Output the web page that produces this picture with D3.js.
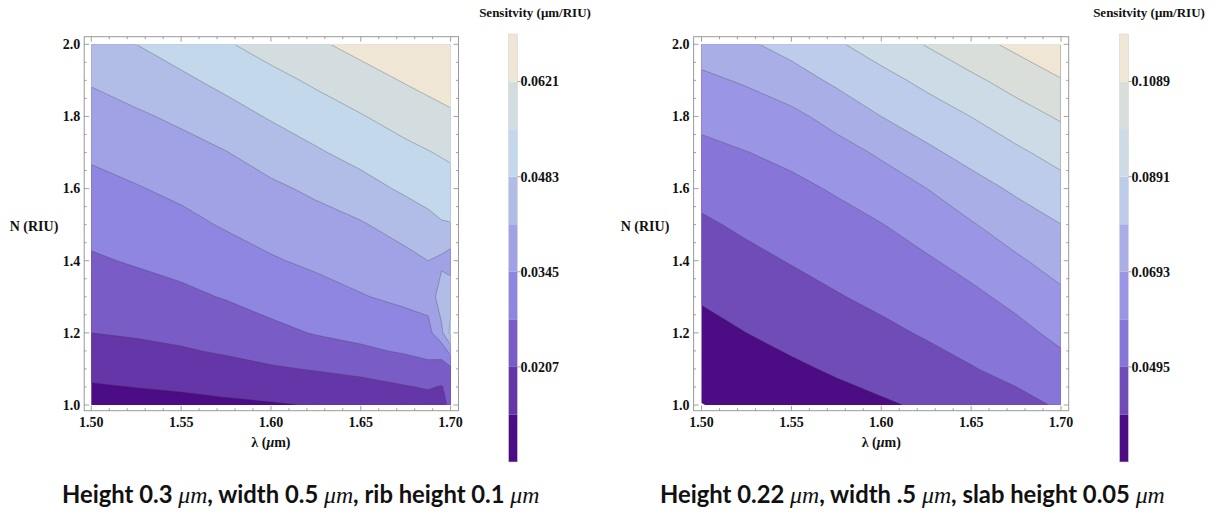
<!DOCTYPE html>
<html>
<head>
<meta charset="utf-8">
<script src="https://cdn.jsdelivr.net/npm/d3@7"></script>
<style>
  body { margin: 0; background: #fff; }
  text { font-family: "Liberation Serif", "DejaVu Serif", serif; font-weight: bold; fill: #111; }
  text.cap { font-family: Lato, "Open Sans", sans-serif; }
</style>
</head>
<body>
<svg id="chart" width="1217" height="515"></svg>
<script>
// left panel: rib waveguide, sensitivity (um/RIU) on a lambda x N grid
const lambdaLeft = [1.50, 1.525, 1.55, 1.575, 1.60, 1.625, 1.65, 1.675, 1.6875, 1.695, 1.70];
const nLeft = [1.0, 1.05, 1.1, 1.15, 1.2, 1.3, 1.4, 1.5, 1.6, 1.7, 1.8, 1.9, 2.0];
const sensLeft = [
  [0.0105, 0.0112, 0.0118, 0.0125, 0.0132, 0.0142, 0.0152, 0.0162, 0.0180, 0.0190, 0.0220],
  [0.0132, 0.0139, 0.0146, 0.0156, 0.0166, 0.0176, 0.0186, 0.0203, 0.0212, 0.0203, 0.0230],
  [0.0157, 0.0165, 0.0174, 0.0186, 0.0200, 0.0211, 0.0224, 0.0245, 0.0258, 0.0250, 0.0260],
  [0.0182, 0.0191, 0.0201, 0.0214, 0.0230, 0.0247, 0.0265, 0.0283, 0.0293, 0.0300, 0.0370],
  [0.0207, 0.0214, 0.0223, 0.0236, 0.0259, 0.0280, 0.0294, 0.0311, 0.0322, 0.0400, 0.0500],
  [0.0237, 0.0248, 0.0262, 0.0280, 0.0302, 0.0320, 0.0341, 0.0360, 0.0371, 0.0450, 0.0460],
  [0.0268, 0.0282, 0.0296, 0.0316, 0.0339, 0.0357, 0.0375, 0.0396, 0.0414, 0.0400, 0.0380],
  [0.0297, 0.0311, 0.0328, 0.0351, 0.0371, 0.0389, 0.0408, 0.0442, 0.0464, 0.0478, 0.0480],
  [0.0325, 0.0341, 0.0359, 0.0381, 0.0402, 0.0426, 0.0458, 0.0494, 0.0508, 0.0517, 0.0521],
  [0.0355, 0.0372, 0.0391, 0.0412, 0.0443, 0.0475, 0.0506, 0.0535, 0.0549, 0.0558, 0.0565],
  [0.0387, 0.0405, 0.0426, 0.0456, 0.0489, 0.0519, 0.0548, 0.0580, 0.0595, 0.0604, 0.0610],
  [0.0420, 0.0443, 0.0470, 0.0502, 0.0532, 0.0563, 0.0595, 0.0626, 0.0641, 0.0650, 0.0656],
  [0.0457, 0.0483, 0.0515, 0.0546, 0.0579, 0.0611, 0.0642, 0.0672, 0.0687, 0.0690, 0.0690]
];
const levelsLeft = [0.0069, 0.0138, 0.0207, 0.0276, 0.0345, 0.0414, 0.0483, 0.0552, 0.0621, 0.0690];
const barTicksLeft = [0.0207, 0.0345, 0.0483, 0.0621];
const colorsLeft = ["#4b0c85", "#6436a7", "#7a5cc7", "#8f86e2", "#a1a1e5", "#b1bce7", "#c3d8ea", "#d3dde0", "#efe6d5"];

// right panel: slab waveguide
const lambdaRight = [1.50, 1.525, 1.55, 1.575, 1.60, 1.625, 1.65, 1.675, 1.70];
const nRight = [1.0, 1.1, 1.2, 1.3, 1.4, 1.5, 1.6, 1.7, 1.8, 1.9, 2.0];
const sensRight = [
  [0.0295, 0.0320, 0.0343, 0.0365, 0.0385, 0.0408, 0.0434, 0.0468, 0.0505],
  [0.0329, 0.0358, 0.0382, 0.0406, 0.0430, 0.0458, 0.0490, 0.0521, 0.0562],
  [0.0367, 0.0396, 0.0422, 0.0448, 0.0475, 0.0504, 0.0532, 0.0567, 0.0618],
  [0.0405, 0.0434, 0.0461, 0.0489, 0.0516, 0.0544, 0.0574, 0.0619, 0.0674],
  [0.0443, 0.0472, 0.0500, 0.0527, 0.0554, 0.0583, 0.0625, 0.0679, 0.0732],
  [0.0481, 0.0511, 0.0537, 0.0563, 0.0591, 0.0635, 0.0685, 0.0743, 0.0791],
  [0.0524, 0.0551, 0.0573, 0.0603, 0.0646, 0.0692, 0.0755, 0.0807, 0.0856],
  [0.0569, 0.0592, 0.0617, 0.0658, 0.0706, 0.0772, 0.0825, 0.0874, 0.0926],
  [0.0619, 0.0645, 0.0671, 0.0725, 0.0792, 0.0843, 0.0892, 0.0948, 0.1002],
  [0.0675, 0.0703, 0.0748, 0.0810, 0.0860, 0.0914, 0.0970, 0.1028, 0.1084],
  [0.0735, 0.0777, 0.0829, 0.0879, 0.0937, 0.0995, 0.1055, 0.1111, 0.1167]
];
const levelsRight = [0.0297, 0.0396, 0.0495, 0.0594, 0.0693, 0.0792, 0.0891, 0.0990, 0.1089, 0.1188];
const barTicksRight = [0.0495, 0.0693, 0.0891, 0.1089];
const colorsRight = ["#4b0c84", "#6f4cb7", "#8775d8", "#9a95e5", "#aaaee6", "#bcccea", "#ccdbe6", "#dadedb", "#efe6d5"];

const xTicks = [1.50, 1.55, 1.60, 1.65, 1.70];
const yTicks = [1.0, 1.2, 1.4, 1.6, 1.8, 2.0];
const captionLeft = ["Height 0.3 ", "μm", ", width 0.5 ", "μm", ", rib height 0.1 ", "μm"];
const captionRight = ["Height 0.22 ", "μm", ", width .5 ", "μm", ", slab height 0.05 ", "μm"];

const svg = d3.select("#chart");

function drawPanel(p) {
  const x = d3.scaleLinear().domain([1.5, 1.7]).range([p.x0, p.x1]);
  const y = d3.scaleLinear().domain([1.0, 2.0]).range([p.yb, p.yt]);
  const g = svg.append("g");

  // grid index -> data value (grid may be uneven)
  const li = d3.scaleLinear().domain(d3.range(p.lams.length)).range(p.lams).clamp(true);
  const ni = d3.scaleLinear().domain(d3.range(p.ns.length)).range(p.ns).clamp(true);
  const path = d3.geoPath(d3.geoTransform({
    point(px, py) { this.stream.point(x(li(px - 0.5)), y(ni(py - 0.5))); }
  }));

  const bands = d3.contours()
    .size([p.lams.length, p.ns.length])
    .thresholds(p.levels.slice(0, -1))(p.values.flat());

  g.append("g").selectAll("path")
    .data(bands)
    .join("path")
    .attr("d", path)
    .attr("fill", (d, i) => p.colors[i]);

  g.append("clipPath").attr("id", p.id + "-clip")
    .append("rect")
    .attr("x", p.x0 + 0.8).attr("y", p.yt + 0.8)
    .attr("width", p.x1 - p.x0 - 1.6).attr("height", p.yb - p.yt - 1.6);

  g.append("g").attr("clip-path", `url(#${p.id}-clip)`)
    .selectAll("path")
    .data(bands.slice(1))
    .join("path")
    .attr("d", path)
    .attr("fill", "none")
    .attr("stroke", "#3a3a3a")
    .attr("stroke-opacity", 0.5)
    .attr("stroke-width", 0.6);

  // frame
  const [fl, ft, fr, fb] = p.frame;
  g.append("rect")
    .attr("x", fl).attr("y", ft).attr("width", fr - fl).attr("height", fb - ft)
    .attr("fill", "none").attr("stroke", "#9a9a9a").attr("stroke-width", 1);

  const minorX = d3.range(150, 171).map(v => v / 100);
  const minorY = d3.range(20, 41).map(v => v / 20);
  const tk = g.append("g").attr("stroke", "#8a8a8a").attr("stroke-width", 0.8);
  minorX.forEach(v => {
    const len = xTicks.some(t => Math.abs(t - v) < 1e-6) ? 5 : 2.5;
    tk.append("line").attr("x1", x(v)).attr("x2", x(v)).attr("y1", fb).attr("y2", fb - len);
    tk.append("line").attr("x1", x(v)).attr("x2", x(v)).attr("y1", ft).attr("y2", ft + len);
  });
  minorY.forEach(v => {
    const len = yTicks.some(t => Math.abs(t - v) < 1e-6) ? 5 : 2.5;
    tk.append("line").attr("y1", y(v)).attr("y2", y(v)).attr("x1", fl).attr("x2", fl + len);
    tk.append("line").attr("y1", y(v)).attr("y2", y(v)).attr("x1", fr).attr("x2", fr - len);
  });

  g.append("g").selectAll("text")
    .data(xTicks)
    .join("text")
    .attr("x", d => x(d)).attr("y", fb + 16)
    .attr("text-anchor", "middle").attr("font-size", 14)
    .text(d => d.toFixed(2));

  g.append("g").selectAll("text")
    .data(yTicks)
    .join("text")
    .attr("x", fl - 4).attr("y", d => y(d)).attr("dy", "0.35em")
    .attr("text-anchor", "end").attr("font-size", 14)
    .text(d => d.toFixed(1));

  g.append("text")
    .attr("x", p.nLabelX).attr("y", 226).attr("dy", "0.35em")
    .attr("text-anchor", "middle").attr("font-size", 14)
    .text("N (RIU)");

  const lam = g.append("text")
    .attr("x", (p.x0 + p.x1) / 2).attr("y", 447)
    .attr("text-anchor", "middle").attr("font-size", 14);
  lam.append("tspan").text("λ (");
  lam.append("tspan").attr("font-style", "italic").text("μ");
  lam.append("tspan").text("m)");

  // colour bar
  const cb = d3.scaleLinear().domain(d3.extent(p.levels)).range([462, 34]);
  const bar = g.append("g");
  bar.selectAll("rect")
    .data(p.colors)
    .join("rect")
    .attr("x", p.cbX).attr("width", 9)
    .attr("y", (d, i) => cb(p.levels[i + 1]))
    .attr("height", (d, i) => cb(p.levels[i]) - cb(p.levels[i + 1]))
    .attr("fill", d => d);
  bar.append("rect")
    .attr("x", p.cbX).attr("y", 34).attr("width", 9).attr("height", 428)
    .attr("fill", "none").attr("stroke", "#d6d6d6").attr("stroke-width", 0.6);
  bar.selectAll("line")
    .data(p.barTicks)
    .join("line")
    .attr("x1", p.cbX + 9).attr("x2", p.cbX + 12)
    .attr("y1", d => cb(d)).attr("y2", d => cb(d))
    .attr("stroke", "#888").attr("stroke-width", 0.8);
  bar.selectAll("text")
    .data(p.barTicks)
    .join("text")
    .attr("x", p.cbX + 12).attr("y", d => cb(d)).attr("dy", "0.35em")
    .attr("font-size", 14)
    .text(d => d.toFixed(4));
  bar.append("text")
    .attr("x", p.titleX).attr("y", 17)
    .attr("text-anchor", "middle").attr("font-size", 13)
    .text("Sensitvity (μm/RIU)");
}

function drawCaption(parts, cx, size) {
  const cap = svg.append("text").attr("class", "cap")
    .attr("x", cx).attr("y", 503).attr("font-size", size);
  parts.forEach((s, i) => {
    const t = cap.append("tspan").text(s);
    if (i % 2 === 1) t.attr("font-family", "'Liberation Serif', serif").attr("font-style", "italic").attr("font-weight", "normal");
  });
  return cap;
}

drawPanel({
  id: "left", lams: lambdaLeft, ns: nLeft, values: sensLeft, levels: levelsLeft,
  colors: colorsLeft, barTicks: barTicksLeft,
  x0: 91.3, x1: 450.6, yt: 44.3, yb: 405,
  frame: [84.2, 36.7, 458.5, 410.7],
  cbX: 508.5, titleX: 535, nLabelX: 34
});

drawPanel({
  id: "right", lams: lambdaRight, ns: nRight, values: sensRight, levels: levelsRight,
  colors: colorsRight, barTicks: barTicksRight,
  x0: 701.5, x1: 1061, yt: 44.3, yb: 405,
  frame: [693.6, 36.7, 1068.7, 410.7],
  cbX: 1119.5, titleX: 1149, nLabelX: 645
});

// both captions share one size, fitted to the right one's width
const capR = drawCaption(captionRight, 660, 20);
const capSize = 20 * 505 / capR.node().getComputedTextLength();
capR.attr("font-size", capSize);
drawCaption(captionLeft, 62, capSize);
</script>
</body>
</html>
